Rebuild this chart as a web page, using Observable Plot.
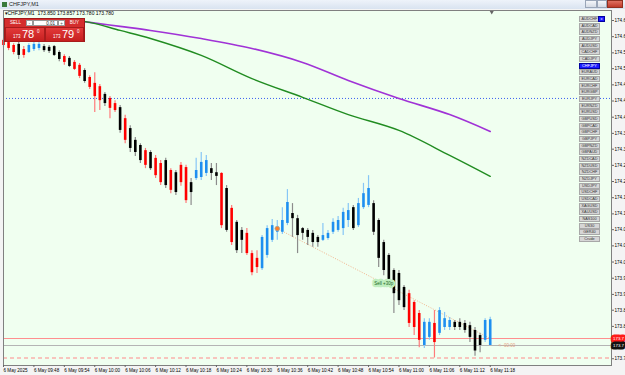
<!DOCTYPE html>
<html><head><meta charset="utf-8">
<script src="https://cdn.jsdelivr.net/npm/d3@7"></script>
<script src="https://cdn.jsdelivr.net/npm/@observablehq/plot@0.6"></script>
<style>
body{margin:0;background:#fff;font-family:"Liberation Sans","DejaVu Sans",Arial,sans-serif;}
#wrap{position:relative;width:625px;height:375px;overflow:hidden;background:#f4f4f4;}
#chart{position:absolute;left:0;top:0;}
#titlebar{position:absolute;left:0;top:0;width:625px;height:9px;background:linear-gradient(#eef3fa,#d9e3f0);font-size:5.5px;line-height:9px;color:#222;}
#titlebar .ico{position:absolute;left:2px;top:2px;width:5px;height:5px;background:#3a7a3a;}
#titlebar .txt{position:absolute;left:9px;top:0;}
.wbtn{position:absolute;top:0;height:8px;border:1px solid #9aa6b8;box-sizing:border-box;background:linear-gradient(#f4f6fa,#d5dbe5);}
#hdr{position:absolute;left:5px;top:10px;font-size:5px;line-height:6px;color:#000;white-space:pre;}
#panel{position:absolute;left:4px;top:18px;width:81px;height:24px;background:#d42d2d;border:1px solid #a01818;box-sizing:border-box;}
.pb{position:absolute;box-sizing:border-box;font-size:4.5px;text-align:center;line-height:7px;}
.big{position:absolute;top:8px;height:15px;box-sizing:border-box;border:1px solid #a81c1c;background:linear-gradient(#e23a3a,#c61f1f);color:#fff;}
#syms{position:absolute;left:579px;top:16px;}
.sym{position:absolute;left:0;width:21px;height:6px;box-sizing:border-box;border:1px solid #a8a8a8;background:#d6d6d6;font-size:3.8px;line-height:4.5px;text-align:center;color:#333;}
</style></head><body>
<div id="wrap">
<div id="chart"></div>
<div id="titlebar"><div class="ico"></div><div class="txt">CHFJPY,M1</div>
 <div class="wbtn" style="left:585px;width:12px;"></div>
 <div class="wbtn" style="left:597px;width:10px;"></div>
 <div class="wbtn" style="left:607px;width:16px;background:linear-gradient(#e07060,#c03a2a);border-color:#903020;"></div>
</div>
<div id="hdr"></div>
<div id="panel">
 <div class="pb" style="left:0;top:0;width:21px;height:8px;color:#fff;">SELL</div>
 <div class="pb" style="left:21px;top:1px;width:7px;height:6px;background:#fff;border:1px solid #999;color:#555;line-height:5px;">-</div>
 <div class="pb" style="left:28px;top:1px;width:25px;height:6px;background:#fff;border:1px solid #999;color:#222;line-height:5px;text-align:right;padding-right:2px;">0.01</div>
 <div class="pb" style="left:53px;top:1px;width:7px;height:6px;background:#fff;border:1px solid #999;color:#555;line-height:5px;">+</div>
 <div class="pb" style="left:60px;top:0;width:19px;height:8px;color:#fff;">BUY</div>
 <div class="big" style="left:0;width:40px;"><span style="position:absolute;left:7px;top:6px;font-size:4.5px;">173</span><span style="position:absolute;left:16px;top:0px;font-size:11px;line-height:13px;">78</span><span style="position:absolute;left:31px;top:1px;font-size:4.5px;">0</span></div>
 <div class="big" style="left:40px;width:39px;"><span style="position:absolute;left:7px;top:6px;font-size:4.5px;">173</span><span style="position:absolute;left:16px;top:0px;font-size:11px;line-height:13px;">79</span><span style="position:absolute;left:31px;top:1px;font-size:4.5px;">0</span></div>
</div>
<div id="syms"></div>
<div style="position:absolute;left:598px;top:16px;width:7px;height:6px;background:#1a1aff;border:1px solid #0000a0;box-sizing:border-box;color:#fff;font-size:4px;line-height:4px;text-align:center;">x</div>
</div>
<script>
// ---- data ----
const symbolName = "CHFJPY,M1";
const startTime = new Date(2025, 4, 6, 9, 42);
const kinds = ["r","r","r","k","r","b","b","b","k","k","k","k","r","k","r","r","k","r","r","r",
 "k","r","r","k","r","k","k","k","r","k","r","r","k","r","k","r","r","k","b","b",
 "b","k","k","r","k","r","k","k","r","r","r","b","b","b","b","b","b","k","k","k",
 "k","k","k","b","b","b","b","b","b","k","b","b","b","k","k","k","k","k","k","k",
 "r","r","r","b","b","r","b","b","b","k","k","k","k","k","k","b","b"];
const open = [174.610,174.604,174.596,174.599,174.585,174.577,174.585,174.588,174.593,174.591,
 174.593,174.577,174.566,174.561,174.550,174.542,174.528,174.509,174.493,174.484,
 174.463,174.452,174.438,174.427,174.397,174.370,174.338,174.324,174.310,174.305,
 174.289,174.275,174.283,174.256,174.250,174.270,174.264,174.223,174.234,174.237,
 174.248,174.261,174.250,174.248,174.207,174.153,174.115,174.093,174.085,174.030,
 174.017,173.989,174.025,174.066,174.088,174.088,174.112,174.139,174.125,174.098,
 174.093,174.085,174.074,174.066,174.071,174.088,174.093,174.098,174.120,174.155,
 174.106,174.155,174.161,174.166,174.120,174.060,174.025,173.984,173.976,173.938,
 173.921,173.897,173.867,173.780,173.802,173.840,173.813,173.829,173.829,173.843,
 173.843,173.840,173.834,173.821,173.807,173.794,173.850];
const close = [174.596,174.588,174.577,174.569,174.569,174.596,174.599,174.599,174.582,174.580,
 174.569,174.558,174.550,174.539,174.531,174.512,174.498,174.482,174.457,174.446,
 174.438,174.425,174.419,174.365,174.338,174.316,174.305,174.283,174.270,174.261,
 174.242,174.223,174.215,174.202,174.196,174.223,174.174,174.196,174.256,174.278,
 174.283,174.248,174.240,174.106,174.093,174.060,174.038,174.066,174.030,173.978,
 173.992,174.074,174.098,174.106,174.098,174.120,174.169,174.125,174.079,174.085,
 174.074,174.060,174.060,174.079,174.085,174.115,174.120,174.142,174.147,174.098,
 174.166,174.193,174.207,174.088,174.017,173.984,173.957,173.921,173.902,173.883,
 173.840,173.829,173.794,173.843,173.843,173.788,173.875,173.853,173.848,173.829,
 173.829,173.821,173.802,173.765,173.780,173.848,173.780];
const high = [174.615,174.610,174.601,174.604,174.593,174.601,174.604,174.604,174.599,174.596,
 174.596,174.582,174.571,174.566,174.555,174.547,174.533,174.514,174.522,174.490,
 174.468,174.457,174.446,174.433,174.406,174.378,174.346,174.329,174.316,174.310,
 174.297,174.283,174.289,174.261,174.256,174.278,174.270,174.234,174.289,174.305,
 174.297,174.275,174.275,174.250,174.215,174.161,174.120,174.101,174.098,174.038,
 174.038,174.079,174.106,174.123,174.120,174.155,174.204,174.166,174.134,174.101,
 174.098,174.093,174.079,174.112,174.093,174.125,174.131,174.153,174.166,174.161,
 174.180,174.221,174.242,174.174,174.125,174.066,174.030,173.989,173.984,173.943,
 173.930,173.902,173.875,173.853,173.853,173.875,173.883,173.870,173.856,173.848,
 173.853,173.848,173.843,173.829,173.813,173.853,173.857];
const low = [174.591,174.582,174.571,174.558,174.561,174.574,174.580,174.582,174.577,174.574,
 174.566,174.552,174.542,174.536,174.528,174.506,174.493,174.476,174.414,174.419,
 174.430,174.397,174.414,174.357,174.329,174.305,174.294,174.275,174.261,174.256,
 174.234,174.215,174.207,174.193,174.188,174.213,174.166,174.161,174.229,174.229,
 174.240,174.229,174.215,174.098,174.088,174.052,174.030,174.030,174.025,173.970,
 173.976,173.984,174.017,174.060,174.066,174.082,174.106,174.074,174.030,174.066,
 174.052,174.047,174.047,174.063,174.066,174.082,174.088,174.079,174.101,174.093,
 174.101,174.150,174.155,174.079,173.992,173.970,173.943,173.867,173.889,173.875,
 173.829,173.807,173.774,173.772,173.794,173.746,173.807,173.821,173.821,173.821,
 173.821,173.813,173.788,173.751,173.760,173.788,173.780];
// moving averages, read at candle indices
const maIdx = [14,17,23,29,39,49,59,68,78,88,96];
const maPurple = [174.664,174.659,174.648,174.637,174.615,174.588,174.550,174.501,174.452,174.408,174.362];
const maGreen  = [174.664,174.659,174.637,174.615,174.569,174.506,174.455,174.408,174.365,174.297,174.240];
// levels
const bid = 173.780, ask = 173.799;
const alertLevel = 174.452;
const orderLevel = 173.746;
const sellOpenIdx = 54, sellOpenPrice = 174.098;
const tradeLabel = "Sell +30p";
const headerText = "CHFJPY,M1  173.850 173.857 173.780 173.780";
const timeTickIdx = [0,6,12,18,24,30,36,42,48,54,60,66,72,78,84,90,96];
const timeTickLabels = ["6 May 2025","6 May 09:48","6 May 09:54","6 May 10:00","6 May 10:06","6 May 10:12","6 May 10:18","6 May 10:24","6 May 10:30","6 May 10:36","6 May 10:42","6 May 10:48","6 May 10:54","6 May 11:00","6 May 11:06","6 May 11:12","6 May 11:18"];
const priceTicks = [174.664,174.620,174.576,174.533,174.489,174.445,174.401,174.357,174.314,174.270,174.226,174.182,174.138,174.095,174.051,174.007,173.963,173.919,173.876,173.832,173.744];
const symbols = ["AUDCHF","AUDCAD","AUDNZD","AUDJPY","AUDUSD","CADCHF","CADJPY","CHFJPY","EURAUD","EURCAD","EURCHF","EURGBP","EURJPY","EURNZD","EURUSD","GBPUSD","GBPCAD","GBPCHF","GBPJPY","GBPNZD","GBPAUD","NZDCAD","NZDUSD","NZDCHF","NZDJPY","USDJPY","USDCHF","USDCAD","XAGUSD","XAUUSD","NAS100","US30","GER40","Crude"];

// ---- build ----
const t = i => new Date(+startTime + i * 60000);
const candles = open.map((o, i) => ({time: t(i), open: o, close: close[i], high: high[i], low: low[i], kind: kinds[i]}));
const bodyColor = {b: "#1e8ff0", k: "#000000", r: "#ff0000"};
const wickColor = {b: "#86c6f6", k: "#8c8c8c", r: "#ff7a7a"};
const purple = maIdx.map((i, k) => ({time: t(i), v: maPurple[k]}));
const green = maIdx.map((i, k) => ({time: t(i), v: maGreen[k]}));
const lastIdx = open.length - 1;
const tickLabelMap = new Map(timeTickIdx.map((i, k) => [+t(i), timeTickLabels[k]]));
const midIdx = (sellOpenIdx + lastIdx) / 2, midPrice = (sellOpenPrice + ask) / 2;
// the price column is cut by the window edge: only the first five characters show
const shown = v => v.toFixed(3).slice(0, 5);

const chart = Plot.plot({
  width: 625, height: 375,
  marginLeft: 3, marginRight: 14, marginTop: 10, marginBottom: 10,
  x: {type: "time", domain: [t(0), t(119.92)]},
  y: {domain: [173.7256, 174.6912]},
  style: {background: "transparent", fontFamily: "'Liberation Sans', Arial, sans-serif", fontSize: "5px", color: "#000"},
  marks: [
    Plot.frame({fill: "#f0fff0", stroke: "none"}),
    Plot.ruleY([alertLevel], {stroke: "#3a5ff0", strokeDasharray: "1,2"}),
    Plot.ruleY([orderLevel], {stroke: "#ff8a8a", strokeDasharray: "4,3"}),
    Plot.ruleY([ask], {stroke: "#ff8f8f"}),
    Plot.ruleY([bid], {stroke: "#b4b4b4"}),
    Plot.line(purple, {x: "time", y: "v", stroke: "#a033d6", strokeWidth: 1.6, curve: "catmull-rom"}),
    Plot.line(green, {x: "time", y: "v", stroke: "#218c21", strokeWidth: 1.4, curve: "catmull-rom"}),
    Plot.link([{x1: t(sellOpenIdx), y1: sellOpenPrice, x2: t(lastIdx), y2: ask}], {x1: "x1", y1: "y1", x2: "x2", y2: "y2", stroke: "#f2b48c", strokeDasharray: "1,1.5"}),
    Plot.ruleX(candles, {x: "time", y1: "low", y2: "high", stroke: d => wickColor[d.kind], strokeWidth: 1.2}),
    Plot.ruleX(candles, {x: "time", y1: "open", y2: "close", stroke: d => bodyColor[d.kind], strokeWidth: 2.6}),
    Plot.dot([{x: t(sellOpenIdx), y: sellOpenPrice}], {x: "x", y: "y", r: 2.3, fill: "#ff7f27", stroke: "#a0a0a0", strokeWidth: 0.8}),
    Plot.text([{x: t(midIdx), y: midPrice}], {x: "x", y: "y", text: () => tradeLabel, fill: "#1d6b1d", stroke: "#bfeebf", strokeWidth: 4.5, strokeLinejoin: "round", paintOrder: "stroke", fontSize: 4.5}),
    Plot.text([{x: t(lastIdx + 1.6), y: bid}], {x: "x", y: "y", text: () => "<--00:00", fill: "#e8a080", fontSize: 4.5, textAnchor: "start"}),
    Plot.dot([{x: t(lastIdx + 0.3)}], {x: "x", frameAnchor: "top", symbol: "triangle", r: 1.6, fill: "#666", rotate: 180, dy: 1.5}),
    Plot.frame({stroke: "#808080"}),
    Plot.axisX({ticks: timeTickIdx.map(t), tickFormat: d => tickLabelMap.get(+d), textAnchor: "start", tickSize: 2, tickPadding: 1, fontSize: 4.6, stroke: "#666"}),
    Plot.axisY({anchor: "right", ticks: priceTicks, tickFormat: shown, textAnchor: "start", tickSize: 2, tickPadding: 1, fontSize: 4.6, stroke: "#666"}),
    Plot.text([{y: ask}], {y: "y", frameAnchor: "right", text: d => shown(d.y), textAnchor: "start", dx: 1.5, fill: "#fff", stroke: "#ff1a1a", strokeWidth: 5, paintOrder: "stroke", fontSize: 4.4}),
    Plot.text([{y: bid}], {y: "y", frameAnchor: "right", text: d => shown(d.y), textAnchor: "start", dx: 1.5, fill: "#fff", stroke: "#111", strokeWidth: 5, paintOrder: "stroke", fontSize: 4.4})
  ]
});
document.getElementById("chart").appendChild(chart);
document.getElementById("hdr").textContent = "\u25BE" + headerText;
const syms = document.getElementById("syms");
symbols.forEach((s, k) => {
  const d = document.createElement("div");
  d.className = "sym";
  d.style.top = (k * 6.67) + "px";
  d.textContent = s;
  if (s === "CHFJPY") { d.style.background = "#1a1aff"; d.style.color = "#fff"; d.style.borderColor = "#0000a0"; }
  syms.appendChild(d);
});
</script>
</body></html>
